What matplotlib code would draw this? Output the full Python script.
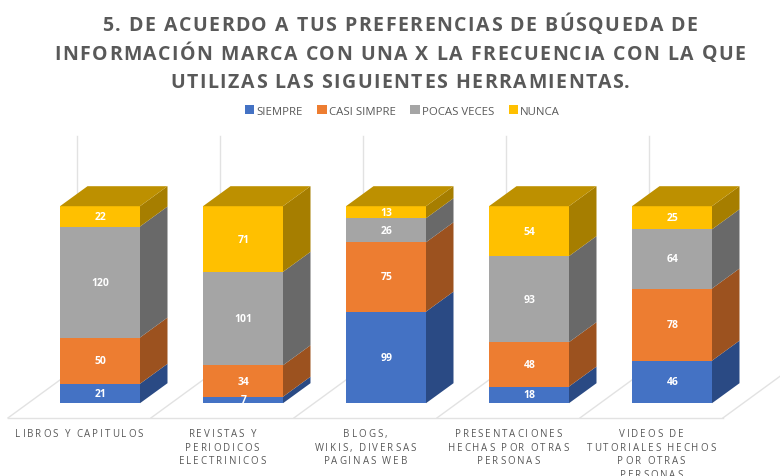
import matplotlib

matplotlib.use("Agg")
import matplotlib.pyplot as plt
import numpy as np
from matplotlib.text import Text
from matplotlib.transforms import IdentityTransform

W, H = 780, 477

title = (
    "5. DE ACUERDO A TUS PREFERENCIAS DE BÚSQUEDA DE\n"
    "INFORMACIÓN MARCA CON UNA X LA FRECUENCIA CON LA QUE\n"
    "UTILIZAS LAS SIGUIENTES HERRAMIENTAS."
)
categories = [
    "LIBROS Y CAPITULOS",
    "REVISTAS Y\nPERIODICOS\nELECTRINICOS",
    "BLOGS,\nWIKIS, DIVERSAS\nPAGINAS WEB",
    "PRESENTACIONES\nHECHAS POR OTRAS\nPERSONAS",
    "VIDEOS DE\nTUTORIALES HECHOS\nPOR OTRAS\nPERSONAS",
]
series_names = ["SIEMPRE", "CASI SIMPRE", "POCAS VECES", "NUNCA"]
siempre = [21, 7, 99, 18, 46]
casi_simpre = [50, 34, 75, 48, 78]
pocas_veces = [120, 101, 26, 93, 64]
nunca = [22, 71, 13, 54, 25]

front_colors = ["#4472C4", "#ED7D31", "#A5A5A5", "#FFC000"]
side_colors = ["#2A4A84", "#9C521F", "#696969", "#A67E00"]
top_color = "#BD9000"
grid_color = "#E2E2E2"
text_color = "#595959"

# pixel geometry of the plot box, the axes fills the whole figure
step_px = 143.0
center_px = 100.0
base_px = 404.2
full_px = 197.0


class TrackedText(Text):
    """Centred multi-line text with letter spacing, matplotlib has no option for it.

    y is the top of the capitals of the first line.
    """

    def __init__(self, x, y, text, tracking=1.0, pitch=14.0, **kwargs):
        super().__init__(x, y, text, ha="center", va="top", **kwargs)
        self.tracking = tracking
        self.pitch = pitch

    def draw(self, renderer):
        fp = self.get_fontproperties()
        x0, y0 = self.get_transform().transform(self.get_unitless_position())
        bar = renderer.get_text_width_height_descent("|", fp, False)[0]
        cap = renderer.get_text_width_height_descent("H", fp, False)[1]
        for n, line in enumerate(self.get_text().split("\n")):
            # measure with a trailing bar so that spaces count
            offsets = [
                renderer.get_text_width_height_descent(line[:i] + "|", fp, False)[0] - bar
                for i in range(len(line) + 1)
            ]
            width = offsets[-1] + self.tracking * (len(line) - 1)
            for i, ch in enumerate(line):
                glyph = Text(
                    x0 - width / 2 + offsets[i] + self.tracking * i,
                    y0 - cap - n * self.pitch,
                    ch,
                    fontproperties=fp,
                    color=self.get_color(),
                    ha="left",
                    va="baseline",
                    transform=IdentityTransform(),
                )
                glyph.set_figure(self.get_figure())
                glyph.draw(renderer)


fig = plt.figure(figsize=(W / 100, H / 100), dpi=100)
ax = fig.add_axes([0, 0, 1, 1])
ax.set_xlim((0 - center_px) / step_px, (W - center_px) / step_px)
ax.set_ylim((base_px - H) / full_px, base_px / full_px)
ax.axis("off")

bar_w = 80 / step_px
dx = 27.5 / step_px
dy = 20 / full_px
x = np.arange(len(categories))

# floor and back wall
floor_y = (base_px - 418.9) / full_px
floor_left = -92 / step_px
slant_dx = 68.5 / step_px
slant_dy = 50 / full_px
ax.plot([floor_left, floor_left + 5], [floor_y, floor_y], color=grid_color, lw=1, zorder=1)
for i in range(6):
    ax.plot(
        [floor_left + i, floor_left + i + slant_dx],
        [floor_y, floor_y + slant_dy],
        color=grid_color,
        lw=1,
        zorder=1,
    )
for i in range(5):
    ax.plot(
        [floor_left + i + slant_dx] * 2,
        [floor_y + slant_dy, (base_px - 137) / full_px],
        color=grid_color,
        lw=1,
        zorder=1,
    )

data = np.array([siempre, casi_simpre, pocas_veces, nunca], dtype=float)
totals = data.sum(axis=0)
bottom = np.zeros(len(categories))
for name, row, front, side in zip(series_names, data, front_colors, side_colors):
    share = row / totals
    ax.bar(x, share, bottom=bottom, width=bar_w, color=front, label=name, zorder=3)
    for xi, b, s, value in zip(x, bottom, share, row):
        right = xi + bar_w / 2
        ax.fill(
            [right, right + dx, right + dx, right],
            [b, b + dy, b + s + dy, b + s],
            color=side,
            lw=0,
            zorder=2,
        )
        ax.text(
            xi + 0.005,
            b + s / 2,
            f"{int(value)}",
            ha="center",
            va="center",
            color="white",
            fontsize=7.5,
            fontweight="bold",
            family="Open Sans",
            zorder=4,
        )
    bottom += share

# top faces
for xi in x:
    left, right = xi - bar_w / 2, xi + bar_w / 2
    ax.fill(
        [left, right, right + dx, left + dx],
        [1, 1, 1 + dy, 1 + dy],
        color=top_color,
        lw=0,
        zorder=3,
    )

# category labels
for xi, label in zip(x, categories):
    ax.add_artist(
        TrackedText(
            xi - 0.145,
            (base_px - 429.5) / full_px,
            label,
            tracking=1.9,
            pitch=13.4,
            transform=ax.transData,
            color=text_color,
            fontsize=7.0,
            family="Open Sans",
            linespacing=1.0,
        )
    )

fig.add_artist(
    TrackedText(
        400 / W,
        1 - 17 / H,
        title,
        tracking=1.5,
        pitch=28.5,
        transform=fig.transFigure,
        color=text_color,
        fontsize=14,
        fontweight="bold",
        family="Open Sans",
        linespacing=1.1,
    )
)

ax.legend(
    loc="center",
    bbox_to_anchor=(402.5 / W, 1 - 112 / H),
    bbox_transform=fig.transFigure,
    ncol=4,
    frameon=False,
    prop={"family": "Open Sans", "size": 8.2},
    labelcolor=text_color,
    handlelength=0.8,
    handleheight=0.8,
    handletextpad=0.2,
    columnspacing=1.3,
)

fig.savefig("out.png", dpi=100)
plt.close(fig)
